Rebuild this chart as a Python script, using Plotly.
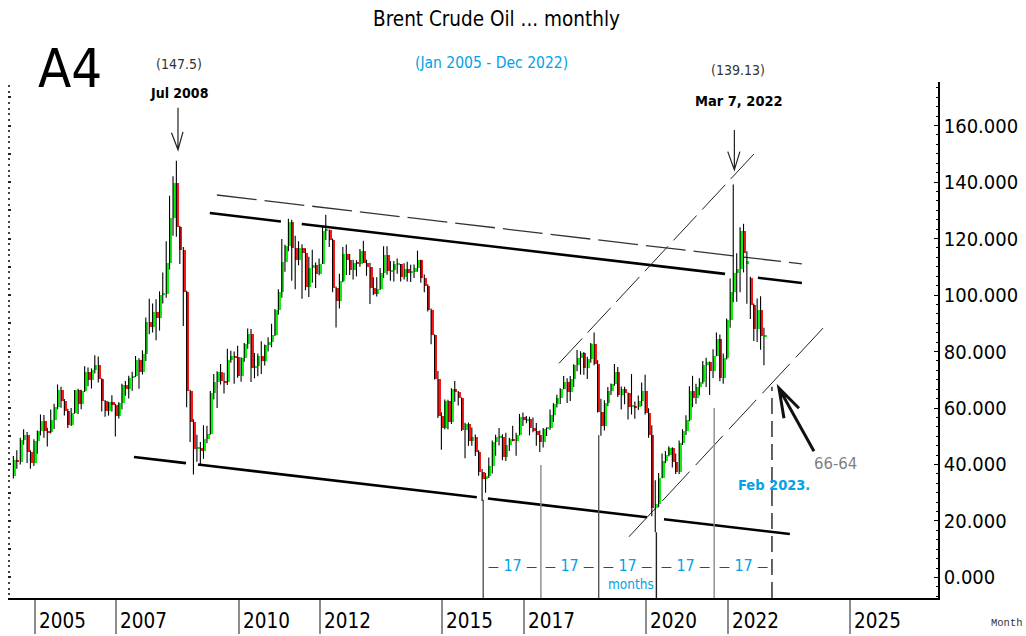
import pandas as pd
import plotly.graph_objects as go

# ---------------- data (monthly Brent OHLC, Jul 2004 - Dec 2022) ----------------
open_ = [
    35.8, 41.6, 40.8, 48.5, 50.5, 44.5,
    40.5, 48.2, 51.8, 55.4, 51.8, 51.5, 55.6, 60.5, 66.4, 62.5, 58.9, 53.9,
    58.3, 66.2, 61.4, 66.0, 72.9, 69.8, 73.6, 75.2, 70.3, 62.5, 58.9, 62.1,
    61.1, 57.0, 61.9, 68.1, 66.7, 70.5, 71.4, 77.1, 72.7, 79.2, 90.4, 88.7,
    93.9, 91.8, 100.1, 100.3, 111.4, 127.4, 139.8, 124.1, 116.0, 101.0, 66.0, 55.0,
    45.6, 45.9, 44.7, 49.2, 50.8, 65.4, 69.3, 72.9, 69.6, 69.1, 77.0, 78.5,
    77.9, 71.5, 77.6, 82.7, 86.2, 74.0, 75.0, 78.4, 76.7, 82.3, 83.2, 85.9,
    94.8, 101.0, 111.8, 117.4, 125.9, 116.7, 112.5, 116.7, 114.9, 102.8, 109.6, 110.5,
    107.4, 111.0, 122.7, 122.9, 119.5, 102.4, 97.8, 104.9, 114.6, 112.4, 108.7, 111.2,
    111.1, 115.6, 111.4, 110.0, 102.4, 100.4, 102.2, 107.7, 114.0, 108.4, 108.8, 110.8,
    110.8, 106.4, 109.1, 107.8, 108.1, 109.4, 112.4, 106.0, 103.2, 94.7, 85.9, 70.2,
    57.3, 53.0, 62.6, 55.1, 66.8, 65.6, 63.6, 52.2, 54.2, 48.4, 49.6, 44.6,
    37.3, 34.7, 36.0, 39.6, 48.1, 49.7, 49.9, 42.5, 47.0, 49.1, 48.3, 50.5,
    56.8, 55.7, 56.0, 52.8, 51.7, 50.3, 47.9, 52.7, 52.9, 57.5, 61.4, 63.6,
    66.9, 69.1, 65.8, 70.3, 75.2, 77.6, 79.4, 74.3, 77.4, 82.7, 75.5, 58.7,
    53.8, 61.9, 66.0, 68.4, 72.8, 64.5, 66.6, 65.2, 60.4, 60.8, 60.2, 62.4,
    66.0, 58.2, 50.5, 24.5, 26.0, 35.3, 41.2, 43.3, 45.8, 41.0, 37.5, 47.6,
    51.8, 55.9, 66.1, 63.5, 67.3, 69.3, 75.1, 76.3, 73.0, 78.5, 84.4, 70.6,
    77.8, 91.2, 101.0, 107.9, 109.3, 122.8, 111.0, 106.0, 96.5, 88.0, 94.8, 85.4,
]
high = [
    43.0, 45.0, 49.5, 52.5, 51.5, 45.0,
    48.9, 52.0, 57.7, 57.5, 53.0, 59.5, 61.5, 68.3, 67.5, 63.2, 59.7, 60.0,
    66.4, 66.8, 66.5, 74.8, 74.3, 74.0, 78.7, 78.2, 70.5, 62.8, 62.2, 64.5,
    61.5, 62.0, 68.6, 69.6, 71.4, 72.8, 78.4, 77.6, 80.4, 92.0, 98.7, 97.0,
    98.5, 101.3, 108.0, 119.0, 135.1, 142.0, 147.5, 124.5, 117.0, 101.5, 66.5, 56.0,
    50.5, 48.0, 53.9, 53.7, 66.0, 72.0, 73.0, 75.6, 72.5, 81.0, 80.3, 80.0,
    82.0, 78.0, 83.0, 88.1, 88.0, 79.5, 79.3, 83.6, 82.5, 85.0, 89.8, 95.0,
    102.0, 119.8, 117.8, 127.0, 126.6, 121.0, 119.0, 118.0, 116.5, 113.5, 116.0, 111.5,
    112.9, 124.0, 128.4, 123.2, 120.0, 103.0, 107.5, 117.0, 117.9, 114.5, 112.5, 112.3,
    116.3, 119.2, 112.5, 111.4, 106.3, 106.3, 109.6, 117.3, 117.3, 112.0, 112.0, 112.9,
    111.0, 111.2, 111.8, 110.7, 110.8, 115.7, 112.5, 107.3, 103.8, 95.2, 86.0, 73.1,
    58.5, 63.0, 62.9, 67.0, 69.6, 66.0, 63.7, 54.8, 54.9, 53.1, 50.6, 45.0,
    38.4, 37.0, 42.5, 48.5, 50.5, 52.9, 50.7, 51.2, 49.5, 53.7, 51.2, 57.9,
    58.4, 57.2, 56.9, 56.6, 54.7, 52.0, 52.9, 53.0, 59.5, 61.7, 64.7, 67.0,
    71.3, 70.5, 71.3, 75.5, 80.5, 80.1, 79.8, 78.1, 83.0, 86.7, 76.9, 63.3,
    62.7, 67.4, 68.7, 75.6, 74.5, 67.6, 67.5, 65.5, 72.0, 62.3, 64.4, 69.0,
    71.8, 59.9, 53.9, 34.4, 37.0, 43.9, 44.8, 46.5, 46.1, 43.9, 48.5, 52.5,
    57.4, 67.7, 71.4, 68.6, 70.5, 76.6, 77.8, 76.5, 80.8, 86.7, 86.0, 79.3,
    91.7, 105.8, 139.13, 114.8, 124.0, 125.2, 115.5, 106.5, 97.0, 98.8, 99.6, 88.4,
]
low = [
    35.0, 38.5, 40.0, 47.0, 40.5, 38.5,
    39.5, 43.8, 50.3, 49.5, 46.4, 51.0, 52.6, 59.5, 60.1, 57.3, 52.9, 53.6,
    58.0, 57.9, 59.6, 65.7, 67.7, 66.9, 72.2, 69.0, 58.8, 56.9, 57.3, 58.8,
    49.9, 56.3, 59.5, 64.3, 63.4, 66.1, 71.0, 66.8, 71.9, 76.6, 86.1, 86.7,
    84.0, 87.4, 97.0, 99.0, 109.0, 121.0, 120.6, 111.0, 89.0, 60.3, 48.0, 36.5,
    41.0, 39.5, 42.0, 47.5, 50.5, 63.0, 60.0, 68.3, 65.1, 68.1, 76.0, 68.6,
    70.7, 69.3, 76.4, 81.0, 69.2, 70.5, 71.2, 72.0, 75.0, 80.0, 81.5, 85.5,
    93.0, 99.0, 108.2, 115.5, 105.0, 102.0, 110.5, 98.7, 101.7, 99.3, 104.3, 102.5,
    107.0, 111.0, 119.5, 117.0, 101.0, 88.5, 95.2, 104.5, 107.1, 107.1, 105.5, 106.6,
    110.0, 111.3, 106.8, 96.8, 100.0, 99.5, 101.8, 106.0, 107.2, 105.0, 104.8, 107.5,
    104.8, 105.5, 104.8, 104.6, 106.0, 108.3, 104.3, 101.0, 94.2, 82.6, 70.1, 56.5,
    45.2, 52.5, 52.5, 54.3, 62.2, 60.9, 51.9, 42.2, 46.6, 46.6, 43.0, 36.0,
    27.1, 30.0, 35.2, 36.8, 43.1, 46.7, 41.5, 41.2, 44.8, 48.2, 43.1, 50.3,
    53.6, 54.6, 50.3, 51.4, 46.6, 44.4, 46.0, 50.1, 52.3, 55.0, 60.2, 61.4,
    66.6, 61.8, 62.5, 67.4, 73.0, 71.8, 71.8, 70.3, 76.0, 75.1, 58.4, 50.2,
    52.0, 60.6, 64.6, 67.9, 63.9, 59.5, 61.3, 55.9, 57.7, 56.2, 59.3, 60.7,
    57.7, 49.5, 21.7, 16.0, 24.9, 35.1, 40.4, 42.9, 38.9, 36.6, 36.6, 46.9,
    50.4, 55.3, 60.3, 61.5, 64.5, 68.6, 67.4, 64.6, 70.6, 78.3, 69.5, 68.6,
    77.2, 88.4, 97.4, 97.6, 101.0, 108.0, 96.9, 91.5, 83.7, 83.4, 80.6, 75.1,
]
close = [
    41.6, 40.8, 48.5, 50.5, 44.5, 40.5,
    48.2, 51.8, 55.4, 51.8, 51.5, 55.6, 60.5, 66.4, 62.5, 58.9, 53.9, 58.3,
    66.2, 61.4, 66.0, 72.9, 69.8, 73.6, 75.2, 70.3, 62.5, 58.9, 62.1, 61.1,
    57.0, 61.9, 68.1, 66.7, 70.5, 71.4, 77.1, 72.7, 79.2, 90.4, 88.7, 93.9,
    91.8, 100.1, 100.3, 111.4, 127.4, 139.8, 124.1, 116.0, 101.0, 66.0, 55.0, 45.6,
    45.9, 44.7, 49.2, 50.8, 65.4, 69.3, 72.9, 69.6, 69.1, 77.0, 78.5, 77.9,
    71.5, 77.6, 82.7, 86.2, 74.0, 75.0, 78.4, 76.7, 82.3, 83.2, 85.9, 94.8,
    101.0, 111.8, 117.4, 125.9, 116.7, 112.5, 116.7, 114.9, 102.8, 109.6, 110.5, 107.4,
    111.0, 122.7, 122.9, 119.5, 102.4, 97.8, 104.9, 114.6, 112.4, 108.7, 111.2, 111.1,
    115.6, 111.4, 110.0, 102.4, 100.4, 102.2, 107.7, 114.0, 108.4, 108.8, 110.8, 110.8,
    106.4, 109.1, 107.8, 108.1, 109.4, 112.4, 106.0, 103.2, 94.7, 85.9, 70.2, 57.3,
    53.0, 62.6, 55.1, 66.8, 65.6, 63.6, 52.2, 54.2, 48.4, 49.6, 44.6, 37.3,
    34.7, 36.0, 39.6, 48.1, 49.7, 49.9, 42.5, 47.0, 49.1, 48.3, 50.5, 56.8,
    55.7, 56.0, 52.8, 51.7, 50.3, 47.9, 52.7, 52.9, 57.5, 61.4, 63.6, 66.9,
    69.1, 65.8, 70.3, 75.2, 77.6, 79.4, 74.3, 77.4, 82.7, 75.5, 58.7, 53.8,
    61.9, 66.0, 68.4, 72.8, 64.5, 66.6, 65.2, 60.4, 60.8, 60.2, 62.4, 66.0,
    58.2, 50.5, 24.5, 26.0, 35.3, 41.2, 43.3, 45.8, 41.0, 37.5, 47.6, 51.8,
    55.9, 66.1, 63.5, 67.3, 69.3, 75.1, 76.3, 73.0, 78.5, 84.4, 70.6, 77.8,
    91.2, 101.0, 107.9, 109.3, 122.8, 114.8, 112.0, 96.5, 88.0, 94.8, 85.4, 85.9,
]
first_month = "2004-07-01"

year_ticks = [2005, 2007, 2010, 2012, 2015, 2017, 2020, 2022, 2025]
year_labels = [str(y) for y in year_ticks]
price_ticks = [0, 20, 40, 60, 80, 100, 120, 140, 160]
price_labels = ["0.000", "20.000", "40.000", "60.000", "80.000",
                "100.000", "120.000", "140.000", "160.000"]

# 17-month cycle markers (dates and the price where each marker line starts)
cycle_dates = ["2016-01-01", "2017-06-01", "2018-11-01", "2020-04-01", "2021-09-01", "2023-02-01"]
cycle_tops = [27.5, 39.8, 50.4, 16.0, 60.0, 67.5]
cycle_months = [17, 17, 17, 17, 17]

# trend lines: (start date, start price, end date, end price)
upper_solid = ("2009-04-17", 129.0, "2023-10-27", 104.25)
upper_solid_breaks = [("2011-01-14", "2011-07-20"), ("2021-12-07", "2022-09-28")]
upper_dashed = ("2009-06-19", 135.4, "2023-10-27", 111.0)
lower_solid = ("2007-06-07", 42.65, "2023-07-11", 15.4)
lower_solid_breaks = [("2008-09-15", "2009-01-01"), ("2015-11-05", "2016-02-12"),
                      ("2020-01-07", "2020-06-08")]
rise_upper = ("2017-11-10", 75.8, "2022-09-25", 151.3)
rise_lower = ("2019-07-30", 14.4, "2024-06-13", 90.0)

peak_2008 = ("2008-07-01", 147.5)
peak_2022 = ("2022-03-01", 139.13)
target_2023 = ("2023-02-01", 67.0)

# ---------------- styling ----------------
NARROW = "DejaVu Sans Condensed, Liberation Sans Narrow, sans-serif"
BLUE = "#00A2E8"
GREY = "#7F7F7F"
UP = "#10F010"
DOWN = "#F81818"
X_RANGE = ["2004-05-04", "2027-02-28"]
Y_RANGE = [-7.26, 175.4]
DAY_MS = 86400000

dates = pd.date_range(first_month, periods=len(close), freq="MS")
body_base = [min(o, c) for o, c in zip(open_, close)]
body_len = [max(abs(c - o), 0.35) for o, c in zip(open_, close)]
body_col = [UP if c >= o else DOWN for o, c in zip(open_, close)]

fig = go.Figure()
fig.add_trace(go.Bar(x=dates, y=body_len, base=body_base, width=27 * DAY_MS,
                     marker=dict(color=body_col, line=dict(width=0)),
                     hoverinfo="skip", showlegend=False))
wx, wy = [], []
for d, h, l in zip(dates - pd.Timedelta(days=10), high, low):
    wx += [d, d, None]
    wy += [l, h, None]
fig.add_trace(go.Scatter(x=wx, y=wy, mode="lines", line=dict(color="black", width=1.1),
                         hoverinfo="skip", showlegend=False))
fig.add_trace(go.Scatter(x=[dates[0]], y=[None], yaxis="y2", mode="markers",
                         hoverinfo="skip", showlegend=False))


def value_on(line, when):
    t0, v0, t1, v1 = pd.Timestamp(line[0]), line[1], pd.Timestamp(line[2]), line[3]
    w = pd.Timestamp(when)
    return v0 + (v1 - v0) * (w - t0) / (t1 - t0)


def draw_line(line, breaks=(), **style):
    pts = [line[0]]
    for a, b in breaks:
        pts += [a, b]
    pts.append(line[2])
    for i in range(0, len(pts), 2):
        fig.add_shape(type="line", xref="x", yref="y", layer="below",
                      x0=pts[i], y0=value_on(line, pts[i]),
                      x1=pts[i + 1], y1=value_on(line, pts[i + 1]),
                      line=style)


draw_line(upper_solid, upper_solid_breaks, color="black", width=2.6)
draw_line(lower_solid, lower_solid_breaks, color="black", width=2.6)
draw_line(upper_dashed, (), color="#333333", width=1.3, dash="40px,8px")
draw_line(rise_upper, (), color="#222222", width=1, dash="34px,8px")
draw_line(rise_lower, (), color="#222222", width=1, dash="40px,9px")

cycle_colors = ["#555555", "#8a8a8a", "#555555", "#222222", "#8a8a8a", "#222222"]
for i, (d, top) in enumerate(zip(cycle_dates, cycle_tops)):
    fig.add_shape(type="line", xref="x", yref="y", layer="below",
                  x0=d, x1=d, y0=Y_RANGE[0], y1=top,
                  line=dict(color=cycle_colors[i], width=1.4,
                            dash="16px,7px" if i == len(cycle_dates) - 1 else "solid"))

# arrows (pixel-sized, anchored to data points)
fig.add_shape(type="path", xref="x", yref="y", xsizemode="pixel", ysizemode="pixel",
              xanchor=peak_2008[0], yanchor=peak_2008[1],
              path="M 0.5,11 L 0.5,53 M -6,28 L 0.5,11 L 5.5,29",
              line=dict(color="#222222", width=1.2))
fig.add_shape(type="path", xref="x", yref="y", xsizemode="pixel", ysizemode="pixel",
              xanchor=peak_2022[0], yanchor=peak_2022[1],
              path="M 0,14.5 L 0,54.5 M -6.6,32.8 L 0,14.5 L 5.5,32.8",
              line=dict(color="#222222", width=1.2))
fig.add_shape(type="path", xref="x", yref="y", xsizemode="pixel", ysizemode="pixel",
              xanchor=target_2023[0], yanchor=target_2023[1],
              path="M 7,0 L 42,-63 M 12,-30 L 7,0 L 27,-20",
              line=dict(color="#111111", width=3))

ann = []


def note(text, x, y, size, color="black", xref="paper", yref="paper",
         xanchor="center", yanchor="middle", family=NARROW, xshift=0):
    ann.append(dict(text=text, x=x, y=y, xref=xref, yref=yref, showarrow=False,
                    xanchor=xanchor, yanchor=yanchor, xshift=xshift,
                    font=dict(family=family, size=size, color=color)))


note("Brent Crude Oil ... monthly", 0.5258, 1.1221, 20.5)
note("(Jan 2005 - Dec 2022)", 0.5204, 1.0368, 15.5, BLUE)
note("A4", 0.0667, 1.027, 54)
note("(147.5)", peak_2008[0], 1.0349, 14, "#333333", xref="x", xshift=2)
note("<b>Jul 2008</b>", peak_2008[0], 0.9787, 14, xref="x", xshift=2)
note("(139.13)", peak_2022[0], 1.0233, 14, "#333333", xref="x", xshift=4)
note("<b>Mar 7, 2022</b>", peak_2022[0], 0.9632, 14.5, xref="x", xshift=5)
note("Month", 1.0548, -0.0484, 10.5, "#333333", xanchor="left",
     family="Liberation Mono, Courier New, monospace")
for y, lab in zip(year_ticks, year_labels):
    note(lab, f"{y}-01-01", -0.0446, 20.5, xref="x", xanchor="left", xshift=2)

dash_span = "<span style='color:#444444;font-size:12px'>\u2014</span>"
cd = pd.to_datetime(cycle_dates)
for a, b, n in zip(cd[:-1], cd[1:], cycle_months):
    note(f"{dash_span} {n} {dash_span}", a + (b - a) / 2, 4.4, 16, BLUE, xref="x", yref="y")
note("months", cd[2] + (cd[3] - cd[2]) / 2, -2.3, 13.5, BLUE, xref="x", yref="y", xshift=3)
note("<b>Feb 2023.</b>", cycle_dates[-1], 32.7, 14.5, BLUE, xref="x", yref="y", xshift=2)
note("66-64", "2024-08-27", 40.5, 16.5, GREY, xref="x", yref="y")

fig.update_layout(
    width=1026, height=636,
    margin=dict(l=8, r=88, t=82, b=38, autoexpand=False),
    paper_bgcolor="white", plot_bgcolor="white",
    showlegend=False, hovermode=False, bargap=0,
    annotations=ann,
    xaxis=dict(type="date", range=X_RANGE, tickmode="array",
               tickvals=[f"{y}-01-01" for y in year_ticks], showticklabels=False,
               ticks="outside", ticklen=34, tickwidth=1.5, tickcolor="#8c8c8c",
               showline=True, linecolor="black", linewidth=1.5, automargin=False,
               showgrid=False, zeroline=False, fixedrange=True),
    yaxis=dict(side="right", range=Y_RANGE, tickmode="array", tickvals=price_ticks,
               ticktext=price_labels, ticks="inside", ticklen=4, tickwidth=1,
               tickcolor="black", showline=True, linecolor="black", linewidth=1.5,
               showgrid=False, zeroline=False, fixedrange=True, automargin=False,
               tickfont=dict(family=NARROW, size=20, color="black"),
               minor=dict(tickmode="linear", tick0=0, dtick=10 / 3, ticks="inside",
                          ticklen=2.5, tickcolor="black", showgrid=False)),
    yaxis2=dict(overlaying="y", side="left", range=Y_RANGE, showline=False,
                showgrid=False, zeroline=False, showticklabels=False, automargin=False,
                tickmode="linear", tick0=0, dtick=10, ticks="inside", ticklen=3,
                tickwidth=2, tickcolor="#222222", fixedrange=True,
                minor=dict(tickmode="linear", tick0=0, dtick=2, ticks="inside",
                           ticklen=1.5, tickwidth=1.5, tickcolor="#444444")),
)

fig.write_html("out.html", config={"displayModeBar": False},
               post_script="document.body.style.margin='0';document.body.style.overflow='hidden';")
